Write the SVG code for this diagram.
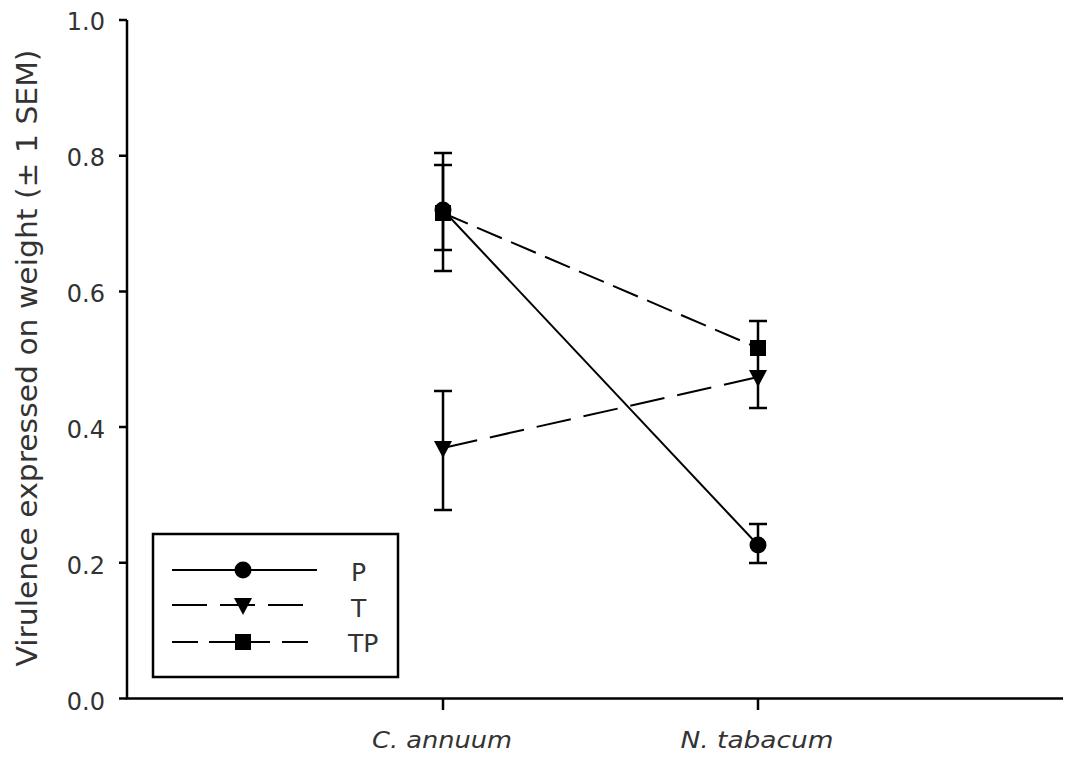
<svg xmlns="http://www.w3.org/2000/svg" width="1067" height="760" viewBox="0 0 1067 760">
<style>
.ax{stroke:#000;stroke-width:2.5;fill:none}
.eb{stroke:#000;stroke-width:2.5;fill:none}
.lab{font-family:"DejaVu Sans",sans-serif;font-size:24px;fill:#333}
.leg{font-family:"DejaVu Sans",sans-serif;font-size:25px;fill:#333}
.xl{font-family:"DejaVu Sans",sans-serif;font-size:23px;font-style:italic;fill:#333}
.yt{font-family:"DejaVu Sans",sans-serif;font-size:29px;fill:#333}
.ln{stroke:#000;stroke-width:2;fill:none}
.dT{stroke-dasharray:35 13}
.dTP{stroke-dasharray:27 10}
</style>
<defs>
<circle id="mc" r="8.5" fill="#000"/>
<polygon id="mt" points="-9,-7 9,-7 0,10" fill="#000"/>
<rect id="ms" x="-8" y="-8" width="16" height="16" fill="#000"/>
</defs>
<rect width="1067" height="760" fill="#fff"/>
<g id="axes">
<path class="ax" d="M127,20 V698.5 H1063"/>
<path class="ax" d="M119,20 H127 M119,155.7 H127 M119,291.4 H127 M119,427.1 H127 M119,562.8 H127 M119,698.5 H127"/>
<path class="ax" d="M443,698.5 V710 M758,698.5 V710"/>
<g class="lab" text-anchor="end">
<text x="105" y="30">1.0</text>
<text x="105" y="166">0.8</text>
<text x="105" y="302">0.6</text>
<text x="105" y="438">0.4</text>
<text x="105" y="574">0.2</text>
<text x="105" y="710">0.0</text>
</g>
<text class="xl" x="442" y="748" text-anchor="middle" textLength="140" lengthAdjust="spacingAndGlyphs">C. annuum</text>
<text class="xl" x="757" y="748" text-anchor="middle" textLength="153" lengthAdjust="spacingAndGlyphs">N. tabacum</text>
<text class="yt" transform="translate(37,358) rotate(-90)" text-anchor="middle" textLength="617" lengthAdjust="spacingAndGlyphs">Virulence expressed on weight (± 1 SEM)</text>
</g>
<g id="connectors">
<line class="ln" x1="443" y1="210" x2="758" y2="545"/>
<line class="ln dT" x1="443" y1="448" x2="758" y2="377"/>
<line class="ln dTP" x1="443" y1="213" x2="758" y2="348"/>
</g>
<g id="errorbars">
<path class="eb" d="M443,153 V271 M434,153 H452 M434,271 H452"/>
<path class="eb" d="M443,165 V250 M434,165 H452 M434,250 H452"/>
<path class="eb" d="M443,391 V510 M434,391 H452 M434,510 H452"/>
<path class="eb" d="M758,321 V408 M749,321 H767 M749,408 H767"/>
<path class="eb" d="M758,524 V563 M749,524 H767 M749,563 H767"/>
</g>
<g id="P">
<use href="#mc" x="443" y="210"/>
<use href="#mc" x="758" y="545"/>
</g>
<g id="T">
<use href="#mt" x="443" y="448"/>
<use href="#mt" x="758" y="377"/>
</g>
<g id="TP">
<use href="#ms" x="443" y="213"/>
<use href="#ms" x="758" y="348"/>
</g>
<g id="legend">
<rect x="153" y="534" width="245" height="143" fill="#fff" stroke="#000" stroke-width="2.5"/>
<line class="ln" x1="172" y1="570" x2="317" y2="570"/>
<use href="#mc" x="243" y="570"/>
<line class="ln dT" x1="172" y1="605" x2="304" y2="605"/>
<use href="#mt" x="243" y="605"/>
<line class="ln" x1="172" y1="642" x2="198" y2="642"/>
<line class="ln" x1="209" y1="642" x2="270" y2="642"/>
<line class="ln" x1="282" y1="642" x2="308" y2="642"/>
<use href="#ms" x="243" y="642"/>
<g class="leg">
<text x="351" y="581">P</text>
<text x="351" y="617">T</text>
<text x="348" y="652">TP</text>
</g>
</g>
</svg>
